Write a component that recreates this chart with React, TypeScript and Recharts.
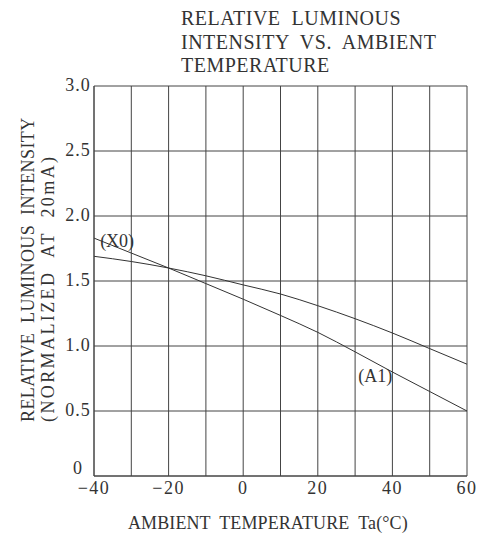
import React from 'react';
import { LineChart, Line, XAxis, YAxis, CartesianGrid, ReferenceDot, Customized } from 'recharts';

const temperatures = [-40, -30, -20, -10, 0, 10, 20, 30, 40, 50, 60];
const seriesX0 = [1.69, 1.65, 1.6, 1.54, 1.47, 1.4, 1.31, 1.21, 1.1, 0.98, 0.86];
const seriesA1 = [1.83, 1.715, 1.6, 1.48, 1.36, 1.235, 1.105, 0.955, 0.8, 0.65, 0.5];
const xTicks = [-40, -30, -20, -10, 0, 10, 20, 30, 40, 50, 60];
const xLabelTicks = [-40, -20, 0, 20, 40, 60];
const yTicks = [0, 0.5, 1.0, 1.5, 2.0, 2.5, 3.0];
const yTickLabels = ['0', '0.5', '1.0', '1.5', '2.0', '2.5', '3.0'];
const titleLines = ['RELATIVE  LUMINOUS', 'INTENSITY  VS.  AMBIENT', 'TEMPERATURE'];
const yTitleLines = ['RELATIVE  LUMINOUS  INTENSITY', '(NORMALIZED  AT  20mA)'];
const xTitle = 'AMBIENT  TEMPERATURE  Ta(°C)';

const data = temperatures.map((t, i) => ({ t, x0: seriesX0[i], a1: seriesA1[i] }));

const FONT = "'Liberation Serif', 'DejaVu Serif', serif";
const TEXT = '#333';

const XTick = (props: any) => {
  const { x, payload } = props;
  if (!xLabelTicks.includes(payload.value)) return <g />;
  const s = payload.value < 0 ? '\u2212' + Math.abs(payload.value) : String(payload.value);
  return (
    <text
      x={x}
      y={494}
      textAnchor="middle"
      fontFamily={FONT}
      fontSize={18}
      style={{ fontFamily: FONT, fontSize: 18, letterSpacing: 1.5 }}
      fill={TEXT}
    >
      {s}
    </text>
  );
};

const YTick = (props: any) => {
  const { y, payload } = props;
  const idx = yTicks.indexOf(payload.value);
  const yy = payload.value === 0 ? y - 2 : y + 5;
  return (
    <text
      x={78}
      y={yy}
      textAnchor="middle"
      fontFamily={FONT}
      fontSize={18}
      style={{ fontFamily: FONT, fontSize: 18, letterSpacing: 1 }}
      fill={TEXT}
    >
      {yTickLabels[idx]}
    </text>
  );
};

const Titles = () => (
  <g fill={TEXT}>
    {titleLines.map((l, i) => (
      <text
        key={i}
        x={181}
        y={25 + i * 23.5}
        fontFamily={FONT}
        fontSize={20}
        style={{ fontFamily: FONT, fontSize: 20, letterSpacing: 0.5, whiteSpace: 'pre' }}
      >
        {l}
      </text>
    ))}
    {yTitleLines.map((l, i) => (
      <text
        key={'y' + i}
        x={0}
        y={0}
        fontFamily={FONT}
        fontSize={18}
        transform={`translate(${34 + i * 20}, ${422}) rotate(-90)`}
        style={{ fontFamily: FONT, fontSize: 18, letterSpacing: i === 0 ? 0.4 : 2.4, whiteSpace: 'pre' }}
      >
        {l}
      </text>
    ))}
    <text
      x={128}
      y={529}
      fontFamily={FONT}
      fontSize={18}
      style={{ fontFamily: FONT, fontSize: 18, letterSpacing: 0.1, whiteSpace: 'pre' }}
    >
      {xTitle}
    </text>
  </g>
);

const PointLabel = (text: string) => (props: any) => {
  const { viewBox } = props;
  const cx = viewBox.x + (viewBox.width || 0) / 2;
  const cy = viewBox.y + (viewBox.height || 0) / 2;
  return (
    <text
      x={cx}
      y={cy + 6}
      textAnchor="middle"
      fontFamily={FONT}
      fontSize={18}
      style={{ fontFamily: FONT, fontSize: 18 }}
      fill={TEXT}
    >
      {text}
    </text>
  );
};

export default function App() {
  return (
    <div style={{ position: 'absolute', left: 0, top: 0, background: '#fff' }}>
      <LineChart width={493} height={537} data={data} margin={{ top: 86, right: 26, bottom: 0, left: 0 }}>
        <CartesianGrid stroke="#444" strokeWidth={1} />
        <XAxis
          dataKey="t"
          type="number"
          domain={[-40, 60]}
          ticks={xTicks}
          interval={0}
          height={61}
          axisLine={{ stroke: '#444' }}
          tickLine={false}
          tick={XTick}
        />
        <YAxis
          type="number"
          domain={[0, 3]}
          ticks={yTicks}
          interval={0}
          width={94}
          axisLine={{ stroke: '#444' }}
          tickLine={false}
          tick={YTick}
        />
        <Line type="monotone" dataKey="x0" stroke="#333" strokeWidth={1} dot={false} isAnimationActive={false} />
        <Line type="monotone" dataKey="a1" stroke="#333" strokeWidth={1} dot={false} isAnimationActive={false} />
        <ReferenceDot x={-33.8} y={1.81} r={0} fill="none" stroke="none" label={PointLabel('(X0)')} />
        <ReferenceDot x={35.4} y={0.77} r={0} fill="none" stroke="none" label={PointLabel('(A1)')} />
        <Customized component={Titles} />
      </LineChart>
    </div>
  );
}
